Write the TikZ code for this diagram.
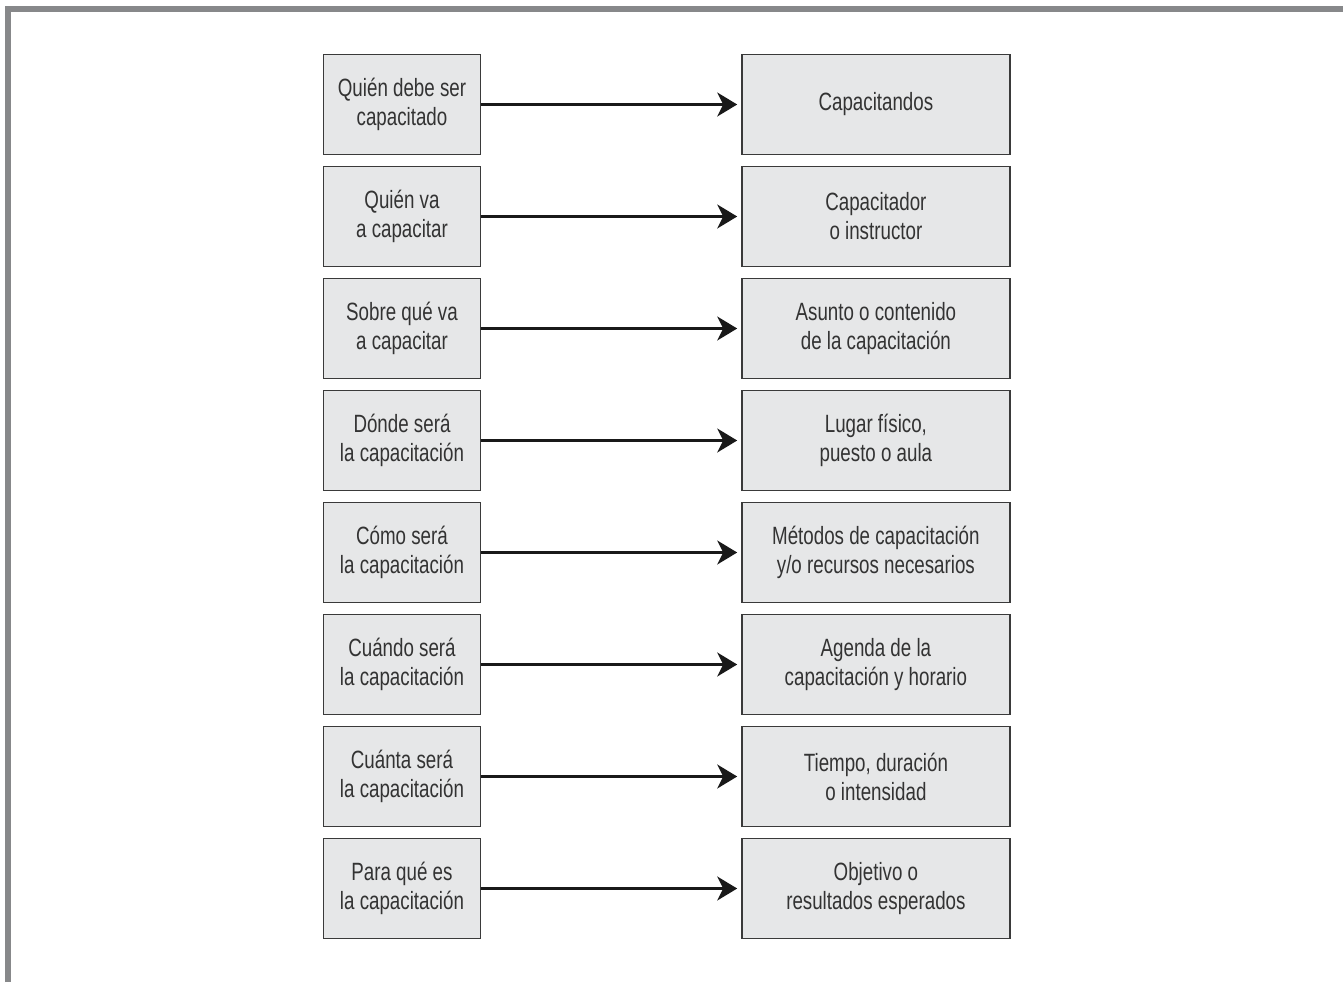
\documentclass[tikz,border=0pt]{standalone}
\usepackage{fontspec}
\setmainfont[FakeStretch=0.75]{Liberation Sans}
\usepackage{xcolor}
\usetikzlibrary{positioning, arrows.meta}

\definecolor{framegray}{HTML}{87888A}
\definecolor{boxfill}{HTML}{E6E7E8}
\definecolor{boxline}{HTML}{3A3A3A}
\definecolor{txt}{HTML}{333333}

\begin{document}
\begin{tikzpicture}[
    box/.style={
      draw=boxline, fill=boxfill, rectangle,
      minimum height=100pt, align=center, text=txt,
      font=\fontsize{25}{29}\selectfont, line width=1.4pt,
      inner sep=0pt
    },
    qbox/.style={box, minimum width=157pt},
    abox/.style={box, minimum width=268pt},
    arrow/.style={-{Stealth[length=20pt, width=24pt, inset=6pt]},
      line width=2.6pt, color=black!90, shorten >=4pt},
    node distance=10.6pt
  ]
    \useasboundingbox (0pt,0pt) rectangle (1343pt,-982pt);

    % ── Frame ──
    \draw[framegray, line width=6pt] (8pt,-982pt) -- (8pt,-9pt) -- (1343pt,-9pt);

    % ── Questions ──
    \node[qbox] (q1) at (402pt,-104.5pt) {Quién debe ser\\capacitado};
    \node[qbox, below=of q1] (q2) {Quién va\\a capacitar};
    \node[qbox, below=of q2] (q3) {Sobre qué va\\a capacitar};
    \node[qbox, below=of q3] (q4) {Dónde será\\la capacitación};
    \node[qbox, below=of q4] (q5) {Cómo será\\la capacitación};
    \node[qbox, below=of q5] (q6) {Cuándo será\\la capacitación};
    \node[qbox, below=of q6] (q7) {Cuánta será\\la capacitación};
    \node[qbox, below=of q7] (q8) {Para qué es\\la capacitación};

    % ── Answers ──
    \node[abox, right=260pt of q1] (a1) {Capacitandos};
    \node[abox, right=260pt of q2] (a2) {Capacitador\\o instructor};
    \node[abox, right=260pt of q3] (a3) {Asunto o contenido\\de la capacitación};
    \node[abox, right=260pt of q4] (a4) {Lugar físico,\\puesto o aula};
    \node[abox, right=260pt of q5] (a5) {Métodos de capacitación\\y/o recursos necesarios};
    \node[abox, right=260pt of q6] (a6) {Agenda de la\\capacitación y horario};
    \node[abox, right=260pt of q7] (a7) {Tiempo, duración\\o intensidad};
    \node[abox, right=260pt of q8] (a8) {Objetivo o\\resultados esperados};

    % ── Arrows ──
    \draw[arrow] (q1) -- (a1);
    \draw[arrow] (q2) -- (a2);
    \draw[arrow] (q3) -- (a3);
    \draw[arrow] (q4) -- (a4);
    \draw[arrow] (q5) -- (a5);
    \draw[arrow] (q6) -- (a6);
    \draw[arrow] (q7) -- (a7);
    \draw[arrow] (q8) -- (a8);

  \end{tikzpicture}
\end{document}
